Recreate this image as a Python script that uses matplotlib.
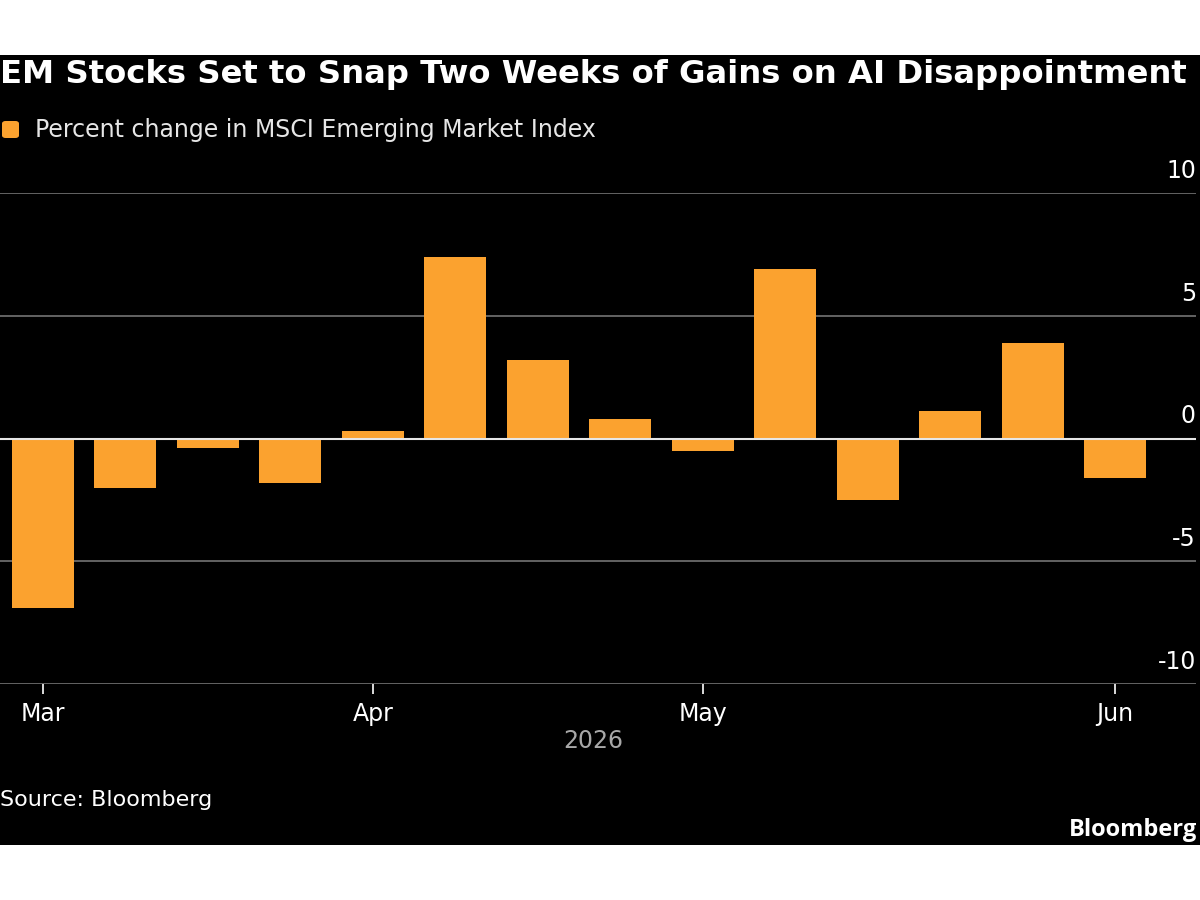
import matplotlib
matplotlib.use('Agg')
import matplotlib.pyplot as plt
import pandas as pd
from matplotlib.patches import Rectangle, FancyBboxPatch

# weekly data (week ending Fridays)
weeks = ['2026-03-06', '2026-03-13', '2026-03-20', '2026-03-27',
         '2026-04-03', '2026-04-10', '2026-04-17', '2026-04-24',
         '2026-05-01', '2026-05-08', '2026-05-15', '2026-05-22', '2026-05-29',
         '2026-06-05']
pct_change = [-6.9, -2.0, -0.4, -1.8, 0.3, 7.4, 3.2, 0.8, -0.5, 6.9, -2.5, 1.1, 3.9, -1.6]
y_ticks = [-10, -5, 0, 5, 10]

title = 'EM Stocks Set to Snap Two Weeks of Gains on AI Disappointment'
legend_label = 'Percent change in MSCI Emerging Market Index'
source = 'Source: Bloomberg'

orange = '#FBA22F'
plt.rcParams['font.family'] = ['DejaVu Sans']

dates = pd.to_datetime(weeks)
x = list(range(len(dates)))

fig = plt.figure(figsize=(12, 9), dpi=100, facecolor='white')
fig.patches.append(Rectangle((0, 1 - 845 / 900), 1, (845 - 55) / 900,
                             transform=fig.transFigure, facecolor='black', zorder=-10))

ax = fig.add_axes([0, 1 - 684 / 900, 1196 / 1200, (684 - 193) / 900])
ax.set_facecolor('black')
ax.bar(x, pct_change, width=0.75, color=orange, zorder=2)
ax.set_xlim(-0.52, len(x) - 1 + 0.98)
ax.set_ylim(-10, 10)

for t in y_ticks:
    ax.axhline(t, color='#e6e6e6' if t == 0 else '#6b6b6b', lw=1.5 if t == 0 else 1.3,
               zorder=3 if t == 0 else 1)
    ax.text(1.0, t + 0.9, str(t), transform=ax.get_yaxis_transform(), ha='right', va='center',
            color='white', fontsize=17)

# month ticks at the first bar of each month
month_pos, month_lab = [], []
for i, d in enumerate(dates):
    if i == 0 or d.month != dates[i - 1].month:
        month_pos.append(i)
        month_lab.append(d.strftime('%b'))
ax.set_xticks(month_pos)
ax.set_xticklabels(month_lab, color='white', fontsize=17)
ax.tick_params(axis='x', colors='white', length=7, width=1.2, pad=6, labelcolor='white')
ax.set_yticks([])
for s in ax.spines.values():
    s.set_visible(False)

fig.text(0.494, 1 - 741 / 900, '2026', ha='center', va='center', color='#a8a8a8', fontsize=17)

fig.text(0.0, 1 - 75 / 900, title, ha='left', va='center', color='white',
         fontsize=23.2, fontweight='bold')
fig.patches.append(FancyBboxPatch((2 / 1200, 1 - 138 / 900), 17 / 1200, 17 / 900,
                                  boxstyle='round,pad=0,rounding_size=0.003',
                                  transform=fig.transFigure, facecolor=orange, edgecolor='none'))
fig.text(35 / 1200, 1 - 130 / 900, legend_label, ha='left', va='center', color='#e6e6e6', fontsize=17)

fig.text(0.0, 1 - 800 / 900, source, ha='left', va='center', color='white', fontsize=16)
fig.text(1197 / 1200, 1 - 830 / 900, 'Bloomberg', ha='right', va='center', color='white',
         fontsize=17, fontweight='bold', family=['Open Sans', 'DejaVu Sans'])

fig.savefig('out.png', dpi=100, facecolor='white')
